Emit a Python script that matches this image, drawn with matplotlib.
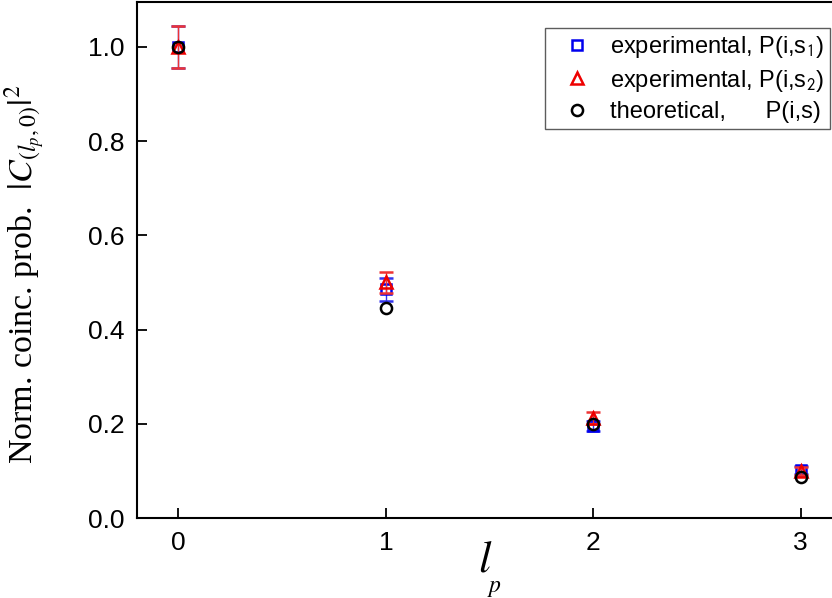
import matplotlib
matplotlib.use("Agg")
import matplotlib.pyplot as plt
from matplotlib.lines import Line2D

lp = [0, 1, 2, 3]
exp_s1 = [1.0, 0.485, 0.195, 0.102]
exp_s1_err = [0.045, 0.025, 0.010, 0.008]
exp_s2 = [1.0, 0.500, 0.213, 0.100]
exp_s2_err = [0.045, 0.022, 0.013, 0.008]
theory = [1.0, 0.445, 0.200, 0.088]

plt.rcParams['mathtext.fontset'] = 'stix'
plt.rcParams['font.family'] = ['Liberation Sans', 'DejaVu Sans']

fig = plt.figure(figsize=(8.32, 5.98), dpi=100)
W, H = 832, 598
left, right, top, bottom = 137, 842, 2, 518
ax = fig.add_axes([left / W, 1 - bottom / H, (right - left) / W, (bottom - top) / H])

blue = '#0000ee'
red = '#ee0000'
ax.errorbar(lp, exp_s1, yerr=exp_s1_err, fmt='s', ms=7.5, mfc='none', mec=blue,
            mew=1.8, ecolor='#3333ee', elinewidth=1.0, capsize=5, capthick=1.0, zorder=3)
ax.errorbar(lp, exp_s2, yerr=exp_s2_err, fmt='^', ms=9, mfc='none', mec=red,
            mew=1.8, ecolor='#ee3333', elinewidth=1.0, capsize=5, capthick=1.0, zorder=4)
ax.plot(lp, theory, 'o', ms=8, mfc='none', mec='black', mew=1.8, zorder=5)

ax.set_xlim(-0.2, 3.2)
ax.set_ylim(0, 1.095)
ax.set_xticks([0, 1, 2, 3])
ax.set_yticks([0.0, 0.2, 0.4, 0.6, 0.8, 1.0])
ax.set_yticklabels(['0.0', '0.2', '0.4', '0.6', '0.8', '1.0'])
ax.tick_params(direction='in', length=7, width=1.3, labelsize=19, pad=9)
for s in ax.spines.values():
    s.set_linewidth(1.5)

ax.set_ylabel(r'Norm. coinc. prob.  $|C_{(l_p,0)}|^2$', fontsize=24.5,
              family='Liberation Serif')
ax.yaxis.set_label_coords(-0.127, 0.473)

fig.text(485.5 / W, 1 - 572 / H, r'$l$', fontsize=32, ha='center', va='baseline')
fig.text(494.5 / W, 1 - 592 / H, r'$p$', fontsize=17, ha='center', va='baseline')

handles = [
    Line2D([], [], ls='none', marker='s', ms=7.5, mfc='none', mec=blue, mew=1.8),
    Line2D([], [], ls='none', marker='^', ms=9, mfc='none', mec=red, mew=1.8),
    Line2D([], [], ls='none', marker='o', ms=8, mfc='none', mec='black', mew=1.8),
]
labels = [r'experimental, P(i,s$_\mathsf{1}$)', r'experimental, P(i,s$_\mathsf{2}$)',
          'theoretical,      P(i,s)']
leg = ax.legend(handles, labels, loc='upper right',
                bbox_to_anchor=((830 - left) / (right - left), 1 - (28 - top) / (bottom - top)),
                fontsize=17, frameon=True, fancybox=False, edgecolor='#333333',
                handlelength=2.2, handletextpad=0.3, borderpad=0.25, labelspacing=0.33,
                borderaxespad=0)
leg.get_frame().set_linewidth(1.0)

fig.savefig('out.png', dpi=100)
